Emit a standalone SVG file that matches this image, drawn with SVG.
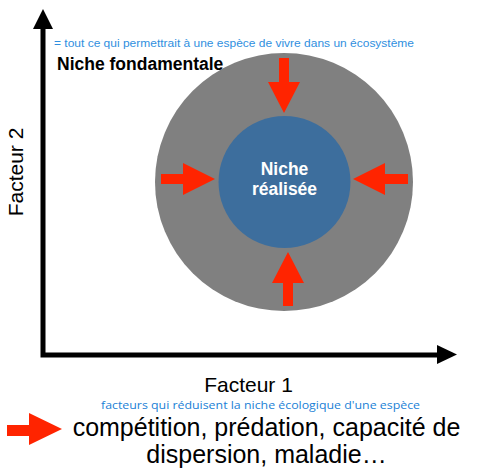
<svg xmlns="http://www.w3.org/2000/svg" width="500" height="475" viewBox="0 0 500 475">
<style>
.ax{stroke:#000;stroke-width:5;fill:none}
.red{fill:#ff2400}
.sans{font-family:"Liberation Sans",Arial,sans-serif}
.blue{fill:#2f8fe0}
</style>
<rect width="500" height="475" fill="#fff"/>
<g id="axes">
<polyline class="ax" points="43,26 43,355 440,355"/>
<polygon points="43,9 33,29 53,29" fill="#000"/>
<polygon points="457,354.5 437,345 437,364" fill="#000"/>
</g>
<g id="fundamental-niche">
<circle cx="284" cy="182" r="129" fill="#808080"/>
</g>
<g id="realized-niche">
<circle cx="284.5" cy="182" r="66" fill="#3d6e9d"/>
<text class="sans" x="284.5" y="175" font-size="17.5" font-weight="bold" fill="#fff" text-anchor="middle">Niche</text>
<text class="sans" x="284.5" y="195" font-size="17.5" font-weight="bold" fill="#fff" text-anchor="middle">réalisée</text>
</g>
<g id="connectors">
<polygon class="red" points="279,58 289,58 289,82 300,82 284,113 268,82 279,82"/>
<polygon class="red" points="283,306 293,306 293,283 304,283 288,252 272,283 283,283"/>
<polygon class="red" points="161,174 183,174 183,163 215,179 183,195 183,184 161,184"/>
<polygon class="red" points="408,174 385,174 385,163 353,179 385,195 385,184 408,184"/>
</g>
<g id="labels">
<text class="sans blue" x="54" y="47" font-size="11" textLength="360" lengthAdjust="spacingAndGlyphs">= tout ce qui permettrait à une espèce de vivre dans un écosystème</text>
<text class="sans" x="57" y="70" font-size="17.5" font-weight="bold" fill="#000">Niche fondamentale</text>
<text class="sans" transform="translate(23,172) rotate(-90)" font-size="21" text-anchor="middle" fill="#000">Facteur 2</text>
<text class="sans" x="248.5" y="392" font-size="21" text-anchor="middle" fill="#000">Facteur 1</text>
<text x="260.5" y="409" font-family="'Open Sans','Noto Sans',sans-serif" font-size="11.5" fill="#1a7fd6" text-anchor="middle" textLength="319" lengthAdjust="spacingAndGlyphs">facteurs qui réduisent la niche écologique d'une espèce</text>
</g>
<g id="legend">
<polygon class="red" points="7,425 29,425 29,413 62,429 29,445 29,436 7,436"/>
<text class="sans" x="266.5" y="436" font-size="25" text-anchor="middle" fill="#000">compétition, prédation, capacité de</text>
<text class="sans" x="266.5" y="463" font-size="25" text-anchor="middle" fill="#000">dispersion, maladie…</text>
</g>
</svg>
